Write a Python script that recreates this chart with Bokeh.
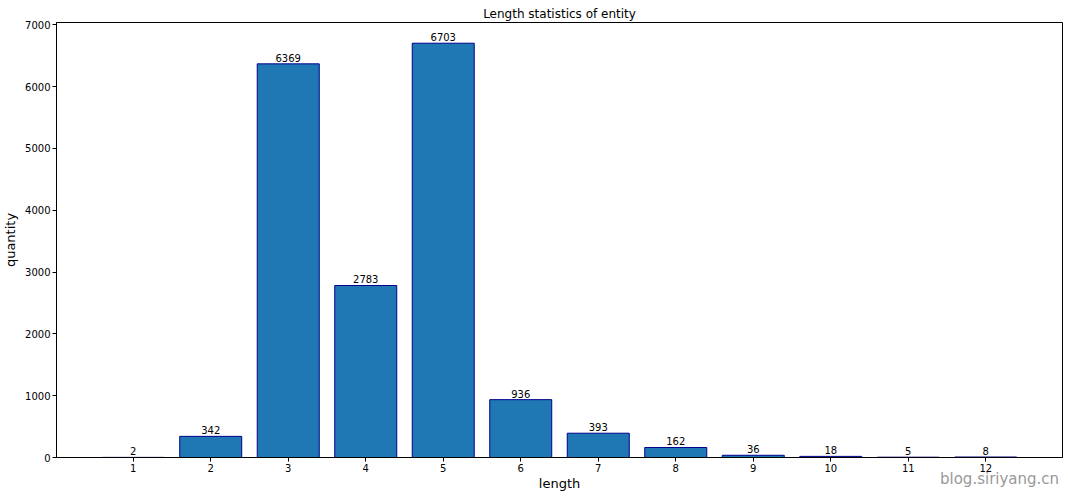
from bokeh.plotting import figure
from bokeh.models import ColumnDataSource, Range1d, FixedTicker, Div
from bokeh.layouts import column
from bokeh.embed import file_html
from bokeh.resources import INLINE
from bokeh.core.properties import value

lengths = [1, 2, 3, 4, 5, 6, 7, 8, 9, 10, 11, 12]
counts = [2, 342, 6369, 2783, 6703, 936, 393, 162, 36, 18, 5, 8]
count_labels = [str(c) for c in counts]
y_ticks = [0, 1000, 2000, 3000, 4000, 5000, 6000, 7000]

FONT = "DejaVu Sans"

src = ColumnDataSource(dict(x=lengths, top=counts, label=count_labels))

p = figure(frame_width=1006, frame_height=435, output_backend="svg", toolbar_location=None,
           x_range=Range1d(0.01, 12.99), y_range=Range1d(0, 7038),
           min_border_left=48, min_border_right=4, min_border_top=22, min_border_bottom=33)

p.title.text = "Length statistics of entity"
p.title.align = "center"
p.title.text_font = FONT
p.title.text_font_size = "12px"
p.title.text_font_style = "normal"
p.title.text_color = "black"
p.title.standoff = 3
p.title.offset = 0

p.vbar(x="x", top="top", width=0.8, source=src, fill_color="#1f77b4",
       line_color="#00008b", line_width=1)
p.text(x="x", y="top", text="label", source=src, text_align="center",
       text_baseline="bottom", text_font=value(FONT), text_font_size="10px",
       text_color="black", y_offset=-2)

p.xaxis.ticker = FixedTicker(ticks=lengths)
p.yaxis.ticker = FixedTicker(ticks=y_ticks)
for ax in (p.xaxis[0], p.yaxis[0]):
    ax.major_label_text_font = FONT
    ax.major_label_text_font_size = "10px"
    ax.major_label_text_color = "black"
    ax.axis_label_text_font = FONT
    ax.axis_label_text_font_size = "13px"
    ax.axis_label_text_font_style = "normal"
    ax.axis_label_text_color = "black"
    ax.minor_tick_line_color = None
    ax.major_tick_out = 4
    ax.major_tick_in = 0
    ax.major_label_standoff = 2
    ax.axis_line_color = "black"
    ax.major_tick_line_color = "black"
p.xaxis.axis_label = "length"
p.yaxis.axis_label = "quantity"
p.xaxis.axis_label_standoff = 1
p.yaxis.axis_label_standoff = 4

p.xgrid.grid_line_color = None
p.ygrid.grid_line_color = None
p.outline_line_color = "black"
p.outline_line_alpha = 1
p.outline_line_width = 1

wm = Div(text="blog.siriyang.cn", margin=(-23, 0, 0, 940),
         styles={"font-family": FONT, "font-size": "15px", "color": "#999999",
                 "line-height": "18px"})

layout = column(p, wm, spacing=0)

open("out.html", "w").write(file_html(layout, INLINE))
